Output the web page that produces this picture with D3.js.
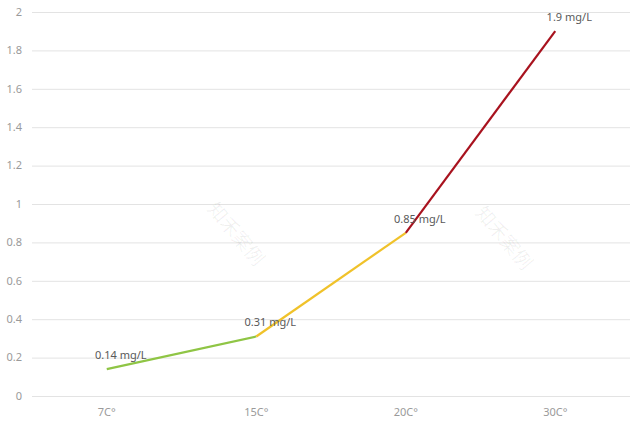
<!DOCTYPE html>
<html><head><meta charset="utf-8">
<script src="https://cdn.jsdelivr.net/npm/d3@7/dist/d3.min.js"></script>
<style>body{margin:0;background:#fff;}svg{display:block;font-family:"Noto Sans","Open Sans",sans-serif;}</style>
</head><body><svg id="c" width="640" height="426"></svg>
<script>
const categories = ["7C°", "15C°", "20C°", "30C°"];
const values = [0.14, 0.31, 0.85, 1.9];
const valueLabels = ["0.14 mg/L", "0.31 mg/L", "0.85 mg/L", "1.9 mg/L"];
const segmentColors = ["#8fc545", "#f0c22a", "#a8121e"];
const yTicks = [0, 0.2, 0.4, 0.6, 0.8, 1, 1.2, 1.4, 1.6, 1.8, 2];
const watermark = "知禾案例";

const svg = d3.select("#c");
const mLeft = 32, mRight = 630, mTop = 12, mBottom = 396;
const x = d3.scaleBand().domain(categories).range([mLeft, mRight]);
const y = d3.scaleLinear().domain([0, 2]).range([mBottom, mTop]);

// gridlines
svg.append("g").selectAll("line").data(yTicks).join("line")
  .attr("x1", mLeft).attr("x2", mRight)
  .attr("y1", d => y(d) + 0.5).attr("y2", d => y(d) + 0.5)
  .attr("stroke", "#e3e3e3").attr("stroke-width", 1);

// y labels
svg.append("g").selectAll("text").data(yTicks).join("text")
  .attr("x", 22).attr("y", d => y(d)).attr("dy", "0.35em")
  .attr("text-anchor", "end").attr("font-size", 11).attr("fill", "#9a9a9a")
  .text(d => d3.format("~g")(d));

// x labels
svg.append("g").selectAll("text").data(categories).join("text")
  .attr("x", d => x(d) + x.bandwidth() / 2).attr("y", 416)
  .attr("text-anchor", "middle").attr("font-size", 11).attr("fill", "#9a9a9a")
  .text(d => d);

// watermark
[[236, 234], [504, 238]].forEach(([cx, cy]) => {
  svg.append("text").attr("transform", `translate(${cx},${cy}) rotate(50)`)
    .attr("text-anchor", "middle").attr("dy", "0.35em")
    .attr("font-family", "Noto Sans CJK SC").attr("font-size", 19)
    .attr("fill", "rgba(0,0,0,0.06)").text(watermark);
});

const px = i => x(categories[i]) + x.bandwidth() / 2;
// segments
for (let i = 0; i < values.length - 1; i++) {
  svg.append("line")
    .attr("x1", px(i)).attr("y1", y(values[i]))
    .attr("x2", px(i + 1)).attr("y2", y(values[i + 1]))
    .attr("stroke", segmentColors[i]).attr("stroke-width", 2.2)
    .attr("stroke-linecap", "butt");
}

// value labels
svg.append("g").selectAll("text").data(values).join("text")
  .attr("x", (d, i) => px(i) + 14).attr("y", d => y(d) - 10)
  .attr("text-anchor", "middle").attr("font-size", 11).attr("fill", "#595959")
  .text((d, i) => valueLabels[i]);
</script></body></html>
